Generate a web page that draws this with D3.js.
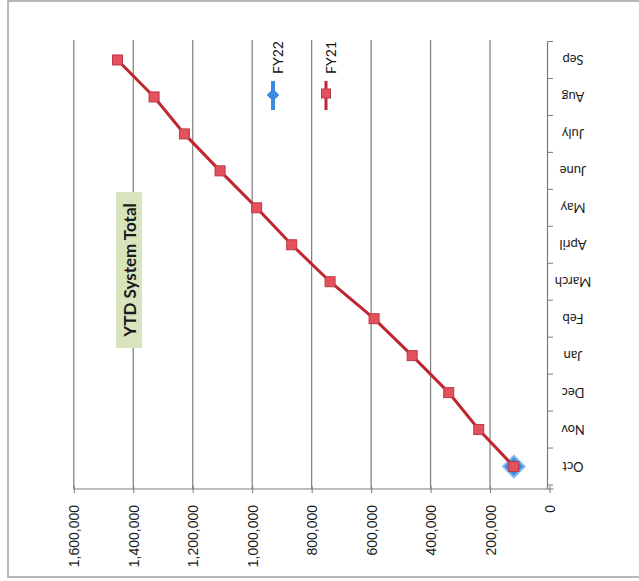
<!DOCTYPE html>
<html>
<head>
<meta charset="utf-8">
<script src="https://cdn.jsdelivr.net/npm/d3@7/dist/d3.min.js"></script>
<style>
  body { margin: 0; background: #fff; }
  svg { display: block; }
</style>
</head>
<body>
<div id="chart"></div>
<script>
// data (chart is a scan turned on its side: values run right-to-left, months bottom-to-top)
const months = ["Oct", "Nov", "Dec", "Jan", "Feb", "March", "April", "May", "June", "July", "Aug", "Sep"];
const fy21 = [120000, 238000, 339000, 462000, 590000, 738000, 867000, 985000, 1108000, 1228000, 1330000, 1453000];
const fy22 = [120000];
const valueTicks = [0, 200000, 400000, 600000, 800000, 1000000, 1200000, 1400000, 1600000];
const seriesNames = ["FY22", "FY21"];
const title = "YTD System Total";

const width = 639, height = 581;

const svg = d3.select("#chart")
    .append("svg")
    .attr("width", width)
    .attr("height", height);

// scanned frame
svg.append("rect")
    .attr("x", 8).attr("y", 1)
    .attr("width", 700).attr("height", 576)
    .attr("fill", "none")
    .attr("stroke", "#a0a0a0")
    .attr("stroke-width", 1.5);

const xScale = d3.scaleLinear().domain([0, 1600000]).range([549.5, 73.8]);
const yScale = d3.scaleBand().domain(months).range([485, 41.5]);
const bw = yScale.bandwidth();
const fmt = d3.format(",");

// gridlines
svg.append("g")
    .selectAll("line")
    .data(valueTicks.filter(d => d > 0))
    .enter()
    .append("line")
    .attr("x1", d => xScale(d)).attr("x2", d => xScale(d))
    .attr("y1", 40).attr("y2", 489)
    .attr("stroke", "#7d7d7d")
    .attr("stroke-width", 1.2);

// value axis (bottom in the picture)
const xAxis = d3.axisBottom(xScale)
    .tickValues(valueTicks)
    .tickSizeInner(0)
    .tickSizeOuter(0)
    .tickFormat("");

const gx = svg.append("g")
    .attr("transform", "translate(0,489)")
    .call(xAxis);
gx.select(".domain").attr("stroke", "#7a7a7a").attr("stroke-width", 1.2)
    .attr("d", `M${xScale(1600000)},0H${xScale(0) + 4}`);
gx.selectAll(".tick").append("line")
    .attr("y1", -3).attr("y2", 4)
    .attr("stroke", "#7a7a7a");
gx.selectAll(".tick").append("text")
    .attr("transform", "translate(0,16) rotate(-90)")
    .attr("text-anchor", "end")
    .attr("dominant-baseline", "central")
    .attr("fill", "#1a1a1a")
    .style("font-family", "Liberation Sans, Arial, sans-serif")
    .style("font-size", "14px")
    .text(d => fmt(d));

// category axis (right in the picture)
svg.append("line")
    .attr("x1", 547.5).attr("x2", 547.5)
    .attr("y1", yScale.range()[1]).attr("y2", 489)
    .attr("stroke", "#7a7a7a").attr("stroke-width", 1.2);

svg.append("g")
    .selectAll("line")
    .data(months)
    .enter()
    .append("line")
    .attr("x1", 547.5).attr("x2", 553)
    .attr("y1", d => yScale(d)).attr("y2", d => yScale(d))
    .attr("stroke", "#7a7a7a");
svg.append("line")
    .attr("x1", 547.5).attr("x2", 553)
    .attr("y1", yScale("Oct") + bw).attr("y2", yScale("Oct") + bw)
    .attr("stroke", "#7a7a7a");

svg.append("g")
    .selectAll("text")
    .data(months)
    .enter()
    .append("text")
    .attr("transform", d => `translate(573,${yScale(d) + bw / 2}) rotate(180)`)
    .attr("text-anchor", "middle")
    .attr("dominant-baseline", "central")
    .attr("fill", "#1a1a1a")
    .style("font-family", "Lato, Open Sans, sans-serif")
    .style("font-size", "13px")
    .text(d => d);

// series
const fy21Data = months.map((m, i) => ({m: m, v: fy21[i]}));
const fy22Data = fy22.map((v, i) => ({m: months[i], v: v}));

const line = d3.line()
    .x(d => xScale(d.v))
    .y(d => yScale(d.m) + bw / 2);

// FY22 markers (drawn first, FY21 sits on top)
svg.append("g")
    .selectAll("path")
    .data(fy22Data)
    .enter()
    .append("path")
    .attr("d", d3.symbol(d3.symbolSquare, 230)())
    .attr("transform", d => `translate(${xScale(d.v)},${yScale(d.m) + bw / 2}) rotate(45)`)
    .attr("fill", "#3a8be0")
    .attr("stroke", "#7fb8ef")
    .attr("stroke-width", 2);

svg.append("path")
    .datum(fy21Data)
    .attr("d", line)
    .attr("fill", "none")
    .attr("stroke", "#c0262f")
    .attr("stroke-width", 3);

svg.append("g")
    .selectAll("rect")
    .data(fy21Data)
    .enter()
    .append("rect")
    .attr("x", d => xScale(d.v) - 5)
    .attr("y", d => yScale(d.m) + bw / 2 - 5)
    .attr("width", 10).attr("height", 10)
    .attr("fill", "#e4505c")
    .attr("stroke", "#b83a44")
    .attr("stroke-width", 1);

// legend
const legendX = [273, 326];
const lg = svg.append("g")
    .selectAll("g")
    .data(seriesNames)
    .enter()
    .append("g")
    .attr("transform", (d, i) => `translate(${legendX[i]},0)`);

lg.append("line")
    .attr("y1", 81).attr("y2", 110)
    .attr("stroke", (d, i) => i === 0 ? "#3a8be0" : "#c0262f")
    .attr("stroke-width", (d, i) => i === 0 ? 4 : 3);

lg.filter((d, i) => i === 0).append("path")
    .attr("d", d3.symbol(d3.symbolSquare, 80)())
    .attr("transform", "translate(0,95) rotate(45)")
    .attr("fill", "#3a8be0");

lg.filter((d, i) => i === 1).append("rect")
    .attr("x", -4.5).attr("y", 89)
    .attr("width", 9).attr("height", 9)
    .attr("fill", "#e4505c")
    .attr("stroke", "#b83a44");

lg.append("text")
    .attr("transform", "translate(4,74) rotate(-90)")
    .attr("text-anchor", "start")
    .attr("dominant-baseline", "central")
    .attr("fill", "#111")
    .style("font-family", "Lato, Open Sans, sans-serif")
    .style("font-size", "14px")
    .text(d => d);

// title
const tg = svg.append("g").attr("transform", "translate(129,270)");
tg.append("rect")
    .attr("x", -13).attr("y", -78)
    .attr("width", 26).attr("height", 156)
    .attr("fill", "#d7e4bd");
tg.append("text")
    .attr("transform", "rotate(-90)")
    .attr("text-anchor", "middle")
    .attr("dominant-baseline", "central")
    .attr("fill", "#1a1a1a")
    .style("font-family", "Lato, Open Sans, sans-serif")
    .style("font-weight", "bold")
    .style("font-size", "17px")
    .text(title);
</script>
</body>
</html>
